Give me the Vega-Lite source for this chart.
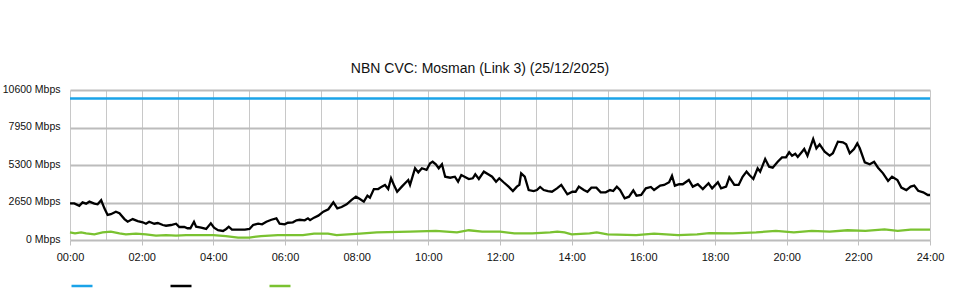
{
  "$schema": "https://vega.github.io/schema/vega-lite/v6.json",
  "width": 860,
  "height": 150,
  "autosize": "none",
  "padding": {"left": 70, "top": 90, "right": 30, "bottom": 60},
  "background": "white",
  "title": {"text": "NBN CVC: Mosman (Link 3) (25/12/2025)", "font": "Liberation Sans", "fontSize": 14, "fontWeight": "normal", "color": "#111", "offset": 8, "anchor": "middle", "dx": -20},
  "config": {"view": {"stroke": null}, "font": "Liberation Sans"},
  "data": {"values": [
    {"series":"Capacity","hour":0,"mbps":10000},{"series":"Capacity","hour":24,"mbps":10000},
    {"series":"Download","hour":0,"mbps":2590},{"series":"Download","hour":0.12,"mbps":2590},{"series":"Download","hour":0.26,"mbps":2420},{"series":"Download","hour":0.35,"mbps":2660},{"series":"Download","hour":0.45,"mbps":2570},{"series":"Download","hour":0.54,"mbps":2710},{"series":"Download","hour":0.68,"mbps":2570},{"series":"Download","hour":0.77,"mbps":2520},{"series":"Download","hour":0.87,"mbps":2810},{"series":"Download","hour":0.96,"mbps":2240},{"series":"Download","hour":1.05,"mbps":1770},{"series":"Download","hour":1.14,"mbps":1820},{"series":"Download","hour":1.28,"mbps":2000},{"series":"Download","hour":1.38,"mbps":1890},{"series":"Download","hour":1.52,"mbps":1480},{"series":"Download","hour":1.61,"mbps":1290},{"series":"Download","hour":1.75,"mbps":1480},{"series":"Download","hour":1.89,"mbps":1340},{"series":"Download","hour":2.03,"mbps":1250},{"series":"Download","hour":2.12,"mbps":1150},{"series":"Download","hour":2.21,"mbps":1290},{"series":"Download","hour":2.35,"mbps":1150},{"series":"Download","hour":2.45,"mbps":1200},{"series":"Download","hour":2.59,"mbps":1060},{"series":"Download","hour":2.68,"mbps":1010},{"series":"Download","hour":2.82,"mbps":1060},{"series":"Download","hour":2.96,"mbps":1150},{"series":"Download","hour":3.05,"mbps":920},{"series":"Download","hour":3.19,"mbps":920},{"series":"Download","hour":3.28,"mbps":830},{"series":"Download","hour":3.36,"mbps":830},{"series":"Download","hour":3.46,"mbps":1290},{"series":"Download","hour":3.52,"mbps":940},{"series":"Download","hour":3.66,"mbps":870},{"series":"Download","hour":3.8,"mbps":780},{"series":"Download","hour":3.93,"mbps":1180},{"series":"Download","hour":4.02,"mbps":870},{"series":"Download","hour":4.13,"mbps":690},{"series":"Download","hour":4.27,"mbps":640},{"series":"Download","hour":4.36,"mbps":780},{"series":"Download","hour":4.43,"mbps":940},{"series":"Download","hour":4.52,"mbps":730},{"series":"Download","hour":4.69,"mbps":730},{"series":"Download","hour":4.88,"mbps":730},{"series":"Download","hour":5.01,"mbps":780},{"series":"Download","hour":5.11,"mbps":1060},{"series":"Download","hour":5.25,"mbps":1150},{"series":"Download","hour":5.36,"mbps":1110},{"series":"Download","hour":5.48,"mbps":1290},{"series":"Download","hour":5.62,"mbps":1430},{"series":"Download","hour":5.76,"mbps":1530},{"series":"Download","hour":5.85,"mbps":1150},{"series":"Download","hour":5.99,"mbps":1110},{"series":"Download","hour":6.08,"mbps":1220},{"series":"Download","hour":6.22,"mbps":1250},{"series":"Download","hour":6.32,"mbps":1390},{"series":"Download","hour":6.41,"mbps":1430},{"series":"Download","hour":6.55,"mbps":1390},{"series":"Download","hour":6.64,"mbps":1530},{"series":"Download","hour":6.7,"mbps":1400},{"series":"Download","hour":6.81,"mbps":1580},{"series":"Download","hour":6.93,"mbps":1720},{"series":"Download","hour":7.07,"mbps":2000},{"series":"Download","hour":7.21,"mbps":2170},{"series":"Download","hour":7.35,"mbps":2660},{"series":"Download","hour":7.46,"mbps":2240},{"series":"Download","hour":7.58,"mbps":2330},{"series":"Download","hour":7.72,"mbps":2520},{"series":"Download","hour":7.86,"mbps":2830},{"series":"Download","hour":7.98,"mbps":3060},{"series":"Download","hour":8.09,"mbps":2900},{"series":"Download","hour":8.2,"mbps":2710},{"series":"Download","hour":8.3,"mbps":3130},{"series":"Download","hour":8.37,"mbps":2990},{"series":"Download","hour":8.48,"mbps":3600},{"series":"Download","hour":8.6,"mbps":3600},{"series":"Download","hour":8.7,"mbps":3770},{"series":"Download","hour":8.79,"mbps":3890},{"series":"Download","hour":8.88,"mbps":3600},{"series":"Download","hour":8.96,"mbps":4360},{"series":"Download","hour":9.04,"mbps":3890},{"series":"Download","hour":9.13,"mbps":3410},{"series":"Download","hour":9.26,"mbps":3770},{"series":"Download","hour":9.35,"mbps":4010},{"series":"Download","hour":9.44,"mbps":4240},{"series":"Download","hour":9.49,"mbps":3890},{"series":"Download","hour":9.63,"mbps":5070},{"series":"Download","hour":9.72,"mbps":4780},{"series":"Download","hour":9.82,"mbps":5070},{"series":"Download","hour":9.95,"mbps":4950},{"series":"Download","hour":10.05,"mbps":5420},{"series":"Download","hour":10.12,"mbps":5530},{"series":"Download","hour":10.21,"mbps":5350},{"series":"Download","hour":10.29,"mbps":5070},{"series":"Download","hour":10.38,"mbps":5350},{"series":"Download","hour":10.47,"mbps":4470},{"series":"Download","hour":10.61,"mbps":4400},{"series":"Download","hour":10.74,"mbps":4470},{"series":"Download","hour":10.83,"mbps":4120},{"series":"Download","hour":10.92,"mbps":4590},{"series":"Download","hour":11.01,"mbps":4470},{"series":"Download","hour":11.13,"mbps":4310},{"series":"Download","hour":11.24,"mbps":4360},{"series":"Download","hour":11.31,"mbps":4640},{"series":"Download","hour":11.41,"mbps":4310},{"series":"Download","hour":11.55,"mbps":4830},{"series":"Download","hour":11.67,"mbps":4640},{"series":"Download","hour":11.78,"mbps":4470},{"series":"Download","hour":11.89,"mbps":4120},{"series":"Download","hour":11.98,"mbps":4360},{"series":"Download","hour":12.1,"mbps":4080},{"series":"Download","hour":12.24,"mbps":3770},{"series":"Download","hour":12.36,"mbps":3460},{"series":"Download","hour":12.47,"mbps":3770},{"series":"Download","hour":12.54,"mbps":3890},{"series":"Download","hour":12.59,"mbps":4710},{"series":"Download","hour":12.69,"mbps":4470},{"series":"Download","hour":12.8,"mbps":3530},{"series":"Download","hour":12.94,"mbps":3460},{"series":"Download","hour":13.03,"mbps":3530},{"series":"Download","hour":13.12,"mbps":3750},{"series":"Download","hour":13.22,"mbps":3530},{"series":"Download","hour":13.34,"mbps":3460},{"series":"Download","hour":13.45,"mbps":3410},{"series":"Download","hour":13.59,"mbps":3650},{"series":"Download","hour":13.71,"mbps":3890},{"series":"Download","hour":13.88,"mbps":3230},{"series":"Download","hour":14.02,"mbps":3410},{"series":"Download","hour":14.11,"mbps":3410},{"series":"Download","hour":14.2,"mbps":3770},{"series":"Download","hour":14.34,"mbps":3530},{"series":"Download","hour":14.44,"mbps":3410},{"series":"Download","hour":14.55,"mbps":3700},{"series":"Download","hour":14.69,"mbps":3700},{"series":"Download","hour":14.81,"mbps":3370},{"series":"Download","hour":14.95,"mbps":3370},{"series":"Download","hour":15.07,"mbps":3530},{"series":"Download","hour":15.16,"mbps":3460},{"series":"Download","hour":15.26,"mbps":3770},{"series":"Download","hour":15.35,"mbps":3530},{"series":"Download","hour":15.48,"mbps":2950},{"series":"Download","hour":15.6,"mbps":3060},{"series":"Download","hour":15.72,"mbps":3510},{"series":"Download","hour":15.81,"mbps":3130},{"series":"Download","hour":15.94,"mbps":3180},{"series":"Download","hour":16.07,"mbps":3650},{"series":"Download","hour":16.21,"mbps":3750},{"series":"Download","hour":16.3,"mbps":3530},{"series":"Download","hour":16.47,"mbps":3840},{"series":"Download","hour":16.58,"mbps":3890},{"series":"Download","hour":16.72,"mbps":4080},{"series":"Download","hour":16.8,"mbps":4540},{"series":"Download","hour":16.88,"mbps":3840},{"series":"Download","hour":17.0,"mbps":3940},{"series":"Download","hour":17.1,"mbps":3940},{"series":"Download","hour":17.27,"mbps":4240},{"series":"Download","hour":17.38,"mbps":3770},{"series":"Download","hour":17.52,"mbps":3940},{"series":"Download","hour":17.66,"mbps":3600},{"series":"Download","hour":17.82,"mbps":4010},{"series":"Download","hour":17.92,"mbps":3650},{"series":"Download","hour":18.08,"mbps":4080},{"series":"Download","hour":18.17,"mbps":3650},{"series":"Download","hour":18.31,"mbps":3770},{"series":"Download","hour":18.4,"mbps":4430},{"series":"Download","hour":18.54,"mbps":3890},{"series":"Download","hour":18.66,"mbps":3890},{"series":"Download","hour":18.77,"mbps":4470},{"series":"Download","hour":18.88,"mbps":4830},{"series":"Download","hour":18.96,"mbps":4590},{"series":"Download","hour":19.07,"mbps":4310},{"series":"Download","hour":19.19,"mbps":5070},{"series":"Download","hour":19.26,"mbps":4830},{"series":"Download","hour":19.4,"mbps":5720},{"series":"Download","hour":19.51,"mbps":5180},{"series":"Download","hour":19.61,"mbps":5110},{"series":"Download","hour":19.75,"mbps":5530},{"series":"Download","hour":19.87,"mbps":5840},{"series":"Download","hour":19.98,"mbps":5840},{"series":"Download","hour":20.07,"mbps":6200},{"series":"Download","hour":20.15,"mbps":5960},{"series":"Download","hour":20.24,"mbps":6100},{"series":"Download","hour":20.31,"mbps":5870},{"series":"Download","hour":20.43,"mbps":6240},{"series":"Download","hour":20.49,"mbps":6430},{"series":"Download","hour":20.58,"mbps":5960},{"series":"Download","hour":20.74,"mbps":7140},{"series":"Download","hour":20.83,"mbps":6480},{"series":"Download","hour":20.92,"mbps":6760},{"series":"Download","hour":21.06,"mbps":6240},{"series":"Download","hour":21.2,"mbps":5960},{"series":"Download","hour":21.29,"mbps":6130},{"series":"Download","hour":21.43,"mbps":6950},{"series":"Download","hour":21.57,"mbps":6900},{"series":"Download","hour":21.66,"mbps":6760},{"series":"Download","hour":21.76,"mbps":6130},{"series":"Download","hour":21.88,"mbps":6430},{"series":"Download","hour":21.97,"mbps":6830},{"series":"Download","hour":22.04,"mbps":6480},{"series":"Download","hour":22.18,"mbps":5490},{"series":"Download","hour":22.32,"mbps":5350},{"series":"Download","hour":22.44,"mbps":5530},{"series":"Download","hour":22.55,"mbps":5110},{"series":"Download","hour":22.69,"mbps":4710},{"series":"Download","hour":22.83,"mbps":4170},{"series":"Download","hour":22.94,"mbps":4470},{"series":"Download","hour":23.09,"mbps":4240},{"series":"Download","hour":23.2,"mbps":3700},{"series":"Download","hour":23.34,"mbps":3530},{"series":"Download","hour":23.46,"mbps":3770},{"series":"Download","hour":23.56,"mbps":3840},{"series":"Download","hour":23.67,"mbps":3480},{"series":"Download","hour":23.81,"mbps":3370},{"series":"Download","hour":23.94,"mbps":3180},{"series":"Download","hour":24.0,"mbps":3180},
    {"series":"Upload","hour":0,"mbps":540},{"series":"Upload","hour":0.14,"mbps":470},{"series":"Upload","hour":0.31,"mbps":540},{"series":"Upload","hour":0.45,"mbps":470},{"series":"Upload","hour":0.68,"mbps":400},{"series":"Upload","hour":0.91,"mbps":540},{"series":"Upload","hour":1.14,"mbps":590},{"series":"Upload","hour":1.38,"mbps":470},{"series":"Upload","hour":1.56,"mbps":400},{"series":"Upload","hour":1.84,"mbps":450},{"series":"Upload","hour":2.12,"mbps":400},{"series":"Upload","hour":2.4,"mbps":310},{"series":"Upload","hour":2.68,"mbps":350},{"series":"Upload","hour":2.96,"mbps":310},{"series":"Upload","hour":3.24,"mbps":350},{"series":"Upload","hour":3.5,"mbps":350},{"series":"Upload","hour":4.0,"mbps":350},{"series":"Upload","hour":4.35,"mbps":280},{"series":"Upload","hour":4.69,"mbps":170},{"series":"Upload","hour":5.0,"mbps":170},{"series":"Upload","hour":5.33,"mbps":280},{"series":"Upload","hour":5.8,"mbps":350},{"series":"Upload","hour":6.5,"mbps":350},{"series":"Upload","hour":6.81,"mbps":450},{"series":"Upload","hour":7.2,"mbps":450},{"series":"Upload","hour":7.44,"mbps":350},{"series":"Upload","hour":8.09,"mbps":450},{"series":"Upload","hour":8.56,"mbps":540},{"series":"Upload","hour":9.49,"mbps":590},{"series":"Upload","hour":10.21,"mbps":640},{"series":"Upload","hour":10.5,"mbps":590},{"series":"Upload","hour":10.8,"mbps":540},{"series":"Upload","hour":11.13,"mbps":690},{"series":"Upload","hour":11.5,"mbps":590},{"series":"Upload","hour":12.0,"mbps":590},{"series":"Upload","hour":12.4,"mbps":470},{"series":"Upload","hour":12.9,"mbps":470},{"series":"Upload","hour":13.4,"mbps":540},{"series":"Upload","hour":13.6,"mbps":590},{"series":"Upload","hour":13.8,"mbps":540},{"series":"Upload","hour":14.0,"mbps":400},{"series":"Upload","hour":14.5,"mbps":470},{"series":"Upload","hour":14.7,"mbps":540},{"series":"Upload","hour":15.0,"mbps":400},{"series":"Upload","hour":15.8,"mbps":350},{"series":"Upload","hour":16.3,"mbps":450},{"series":"Upload","hour":16.97,"mbps":350},{"series":"Upload","hour":17.5,"mbps":400},{"series":"Upload","hour":17.84,"mbps":490},{"series":"Upload","hour":18.5,"mbps":470},{"series":"Upload","hour":19.15,"mbps":540},{"series":"Upload","hour":19.7,"mbps":640},{"series":"Upload","hour":20.2,"mbps":540},{"series":"Upload","hour":20.7,"mbps":640},{"series":"Upload","hour":21.2,"mbps":590},{"series":"Upload","hour":21.7,"mbps":690},{"series":"Upload","hour":22.2,"mbps":640},{"series":"Upload","hour":22.73,"mbps":750},{"series":"Upload","hour":23.1,"mbps":640},{"series":"Upload","hour":23.46,"mbps":730},{"series":"Upload","hour":24.0,"mbps":730}
  ]},
  "mark": {"type": "line", "strokeWidth": 2.3, "interpolate": "linear"},
  "encoding": {
    "x": {"field": "hour", "type": "quantitative", "title": null,
      "scale": {"domain": [0, 24], "nice": false, "zero": false},
      "axis": {"values": [0,1,2,3,4,5,6,7,8,9,10,11,12,13,14,15,16,17,18,19,20,21,22,23,24],
        "labelExpr": "datum.value % 2 == 0 ? (datum.value < 10 ? '0' : '') + datum.value + ':00' : ''",
        "domain": false, "grid": true, "gridColor": "#c8c8c8", "gridWidth": 1,
        "tickColor": "#c0c0c0", "tickSize": 5, "tickOpacity": {"condition": {"test": "datum.value % 2 == 1", "value": 0}, "value": 1},
        "labelFont": "Liberation Sans", "labelFontSize": 11, "labelColor": "#111", "labelPadding": 6, "labelFlush": false}},
    "y": {"field": "mbps", "type": "quantitative", "title": null,
      "scale": {"domain": [0, 10600], "nice": false},
      "axis": {"values": [0, 2650, 5300, 7950, 10600], "labelExpr": "datum.value + ' Mbps'",
        "domain": false, "ticks": false, "grid": true, "gridColor": "#bcbcbc", "gridWidth": 2,
        "labelFont": "Liberation Sans", "labelFontSize": 10.5, "labelColor": "#111", "labelPadding": 10, "labelBaseline": "middle", "labelOffset": -1}},
    "color": {"field": "series", "type": "nominal",
      "scale": {"domain": ["Capacity", "Download", "Upload"], "range": ["#1aa3e8", "#000000", "#7ac231"]},
      "legend": {"orient": "none", "legendX": 0, "legendY": 184, "direction": "horizontal", "title": null,
        "symbolType": "stroke", "symbolSize": 441, "symbolStrokeWidth": 2.5, "labelExpr": "''", "labelOffset": 0, "columnPadding": 67, "padding": 0}}
  }
}
